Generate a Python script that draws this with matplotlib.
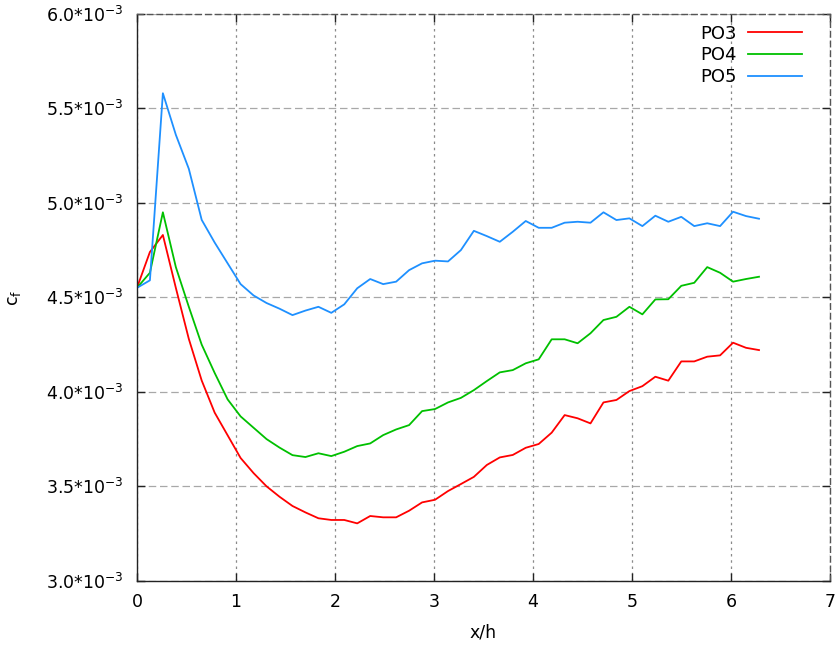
#!/usr/bin/env python3
"""
Skin friction coefficient c_f along x/h for three probes (gnuplot-style look).
"""

import matplotlib

matplotlib.use("Agg")
import matplotlib.pyplot as plt
from matplotlib.ticker import FuncFormatter, MultipleLocator

# Data (cf values in units of 1e-3)
X_H = [
    0.000, 0.131, 0.262, 0.393, 0.524, 0.654, 0.785, 0.916, 1.047, 1.178,
    1.309, 1.440, 1.571, 1.702, 1.833, 1.963, 2.094, 2.225, 2.356, 2.487,
    2.618, 2.749, 2.880, 3.011, 3.142, 3.272, 3.403, 3.534, 3.665, 3.796,
    3.927, 4.058, 4.189, 4.320, 4.451, 4.581, 4.712, 4.843, 4.974, 5.105,
    5.236, 5.367, 5.498, 5.629, 5.760, 5.890, 6.021, 6.152, 6.283,
]
PO3 = [
    4.55, 4.74, 4.83, 4.55, 4.28, 4.06, 3.89, 3.77, 3.65, 3.57,
    3.50, 3.445, 3.396, 3.362, 3.331, 3.322, 3.322, 3.304, 3.343, 3.336,
    3.336, 3.371, 3.415, 3.429, 3.475, 3.512, 3.550, 3.613, 3.653, 3.666,
    3.704, 3.724, 3.784, 3.877, 3.860, 3.833, 3.944, 3.957, 4.004, 4.030,
    4.080, 4.059, 4.161, 4.161, 4.186, 4.193, 4.260, 4.233, 4.221,
]
PO4 = [
    4.55, 4.63, 4.95, 4.66, 4.45, 4.25, 4.10, 3.96, 3.87, 3.81,
    3.75, 3.705, 3.665, 3.655, 3.675, 3.660, 3.683, 3.713, 3.727, 3.771,
    3.801, 3.824, 3.898, 3.909, 3.944, 3.968, 4.009, 4.057, 4.103, 4.115,
    4.151, 4.172, 4.278, 4.278, 4.257, 4.310, 4.380, 4.397, 4.450, 4.410,
    4.489, 4.490, 4.561, 4.577, 4.660, 4.630, 4.583, 4.597, 4.609,
]
PO5 = [
    4.55, 4.59, 5.58, 5.36, 5.18, 4.91, 4.79, 4.68, 4.57, 4.51,
    4.47, 4.44, 4.406, 4.43, 4.45, 4.418, 4.463, 4.548, 4.597, 4.570,
    4.583, 4.644, 4.680, 4.694, 4.690, 4.750, 4.852, 4.824, 4.794, 4.847,
    4.904, 4.868, 4.868, 4.895, 4.900, 4.895, 4.950, 4.909, 4.918, 4.877,
    4.932, 4.900, 4.926, 4.877, 4.892, 4.877, 4.953, 4.930, 4.916,
]
LABELS = ["PO3", "PO4", "PO5"]

# Style
COLORS = ["#ff0000", "#00c000", "#1e90ff"]
GRID_H = "#a8a8a8"
GRID_V = "#8a8a8a"
FRAME = "#222222"
SCALE = 1e-3


def sci_fmt(v, _pos):
    return f"{v / SCALE:.1f}*10$^{{-3}}$"


def main() -> None:
    plt.rcParams["font.family"] = "DejaVu Sans"
    plt.rcParams["mathtext.default"] = "regular"

    fig = plt.figure(figsize=(8.35, 6.45), dpi=100)
    ax = fig.add_axes([0.164, 0.0995, 0.830, 0.879])

    for ys, lab, col in zip([PO3, PO4, PO5], LABELS, COLORS):
        ax.plot(X_H, [v * SCALE for v in ys], color=col, linewidth=1.3, label=lab)

    ax.set_xlim(0, 7)
    ax.set_ylim(3.0e-3, 6.0e-3)
    ax.xaxis.set_major_locator(MultipleLocator(1))
    ax.yaxis.set_major_locator(MultipleLocator(0.5e-3))
    ax.yaxis.set_major_formatter(FuncFormatter(sci_fmt))

    ax.grid(True, axis="x", color=GRID_V, linewidth=0.9, linestyle=(0, (2, 3)))
    ax.grid(True, axis="y", color=GRID_H, linewidth=0.9, linestyle=(0, (6, 3)))
    ax.set_axisbelow(True)

    for side in ["left", "bottom"]:
        ax.spines[side].set_color(FRAME)
        ax.spines[side].set_linewidth(1.0)
    for side in ["top", "right"]:
        ax.spines[side].set_color("#555555")
        ax.spines[side].set_linestyle((0, (4, 3)))
        ax.spines[side].set_linewidth(1.0)

    ax.tick_params(direction="in", length=6, width=1.0, top=True, right=True,
                   labelsize=12.5, color=FRAME)
    ax.tick_params(axis="y", pad=10)
    ax.tick_params(axis="x", pad=9)

    ax.set_xlabel("x/h", fontsize=12.5, labelpad=9)
    ax.set_ylabel("c$_f$", fontsize=12.5, labelpad=16)

    ax.legend(loc="upper right", frameon=False, markerfirst=False, fontsize=13,
              handlelength=3.0, handletextpad=0.6, labelspacing=0.2,
              borderaxespad=0.2, bbox_to_anchor=(0.975, 1.0))

    fig.savefig("out.png", dpi=100)
    plt.close(fig)


if __name__ == "__main__":
    main()
